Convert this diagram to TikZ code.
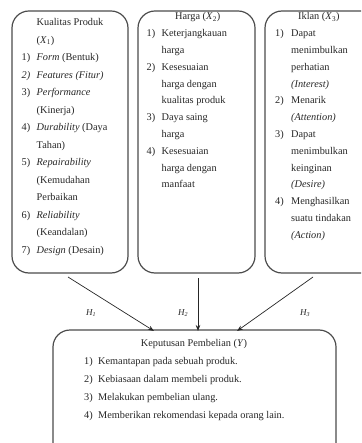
\documentclass[tikz,border=0pt]{standalone}
\usepackage{fontspec}
\setmainfont{Liberation Serif}
\usetikzlibrary{arrows.meta}
\begin{document}
\begin{tikzpicture}[x=1pt,y=-1pt,
  boxline/.style={draw=black!70, line width=1.2pt, rounded corners=17pt},
  txt/.style={anchor=base west, inner sep=0pt, text=black!85, font=\fontsize{10.3}{12}\selectfont},
  lista/.style={txt, font=\fontsize{10.3}{17.5}\selectfont},
  listb/.style={txt, font=\fontsize{10.3}{16.8}\selectfont},
  listc/.style={txt, font=\fontsize{10.3}{18}\selectfont},
  arr/.style={-{Stealth[length=6pt,width=4.5pt]}, line width=0.7pt, black!85},
  hlab/.style={inner sep=0pt, text=black!85, font=\fontsize{9}{10}\selectfont}]
\path[use as bounding box] (0,0) rectangle (361,443);
\begin{scope}
\clip (0,0) rectangle (361,443);
% boxes
\draw[boxline] (12,11) rectangle (128,273);
\draw[boxline] (138,11) rectangle (255,273);
\draw[boxline] (265,11) rectangle (420,273);
\draw[boxline] (53,330) rectangle (336,460);
\end{scope}
% left box text
\node[lista] (l1) at (21.5,26) {\begin{tabular}[t]{@{}p{15pt}@{}l@{}}
 & Kualitas Produk\\
 & (\textit{X}\textsubscript{1})\\
1) & \textit{Form} (Bentuk)\\
\textit{2)} & \textit{Features (Fitur)}\\
3) & \textit{Performance}\\
 & (Kinerja)\\
4) & \textit{Durability} (Daya\\
 & Tahan)\\
5) & \textit{Repairability}\\
 & (Kemudahan\\
 & Perbaikan\\
6) & \textit{Reliability}\\
 & (Keandalan)\\
7) & \textit{Design} (Desain)
\end{tabular}};
% middle box text
\node[txt] (t2) at (175,20) {Harga (\textit{X}\textsubscript{2})};
\node[listb] (l2) at (146.5,36.8) {\begin{tabular}[t]{@{}p{15pt}@{}l@{}}
1) & Keterjangkauan\\
 & harga\\
2) & Kesesuaian\\
 & harga dengan\\
 & kualitas produk\\
3) & Daya saing\\
 & harga\\
4) & Kesesuaian\\
 & harga dengan\\
 & manfaat
\end{tabular}};
% right box text
\node[txt] (t3) at (298,20) {Iklan (\textit{X}\textsubscript{3})};
\node[listb] (l3) at (275,36.8) {\begin{tabular}[t]{@{}p{16pt}@{}l@{}}
1) & Dapat\\
 & menimbulkan\\
 & perhatian\\
 & \textit{(Interest)}\\
2) & Menarik\\
 & \textit{(Attention)}\\
3) & Dapat\\
 & menimbulkan\\
 & keinginan\\
 & \textit{(Desire)}\\
4) & Menghasilkan\\
 & suatu tindakan\\
 & \textit{(Action)}
\end{tabular}};
% bottom box text
\node[txt, anchor=base] (t4) at (194,346) {Keputusan Pembelian (\textit{Y})};
\node[listc] (l4) at (84,364) {\begin{tabular}[t]{@{}p{14pt}@{}l@{}}
1) & Kemantapan pada sebuah produk.\\
2) & Kebiasaan dalam membeli produk.\\
3) & Melakukan pembelian ulang.\\
4) & Memberikan rekomendasi kepada orang lain.
\end{tabular}};
% connectors
\coordinate (s1) at (68,277);
\coordinate (e1) at (154,331);
\coordinate (s2) at (198,278);
\coordinate (e2) at (198,331);
\coordinate (s3) at (313,277);
\coordinate (e3) at (237,331);
\draw[arr] (s1) -- (e1);
\draw[arr] (s2) -- (e2);
\draw[arr] (s3) -- (e3);
\node[hlab] (h1) at (91,313) {\textit{H\textsubscript{1}}};
\node[hlab] (h2) at (183,313) {\textit{H\textsubscript{2}}};
\node[hlab] (h3) at (305,313) {\textit{H\textsubscript{3}}};
\end{tikzpicture}
\end{document}
